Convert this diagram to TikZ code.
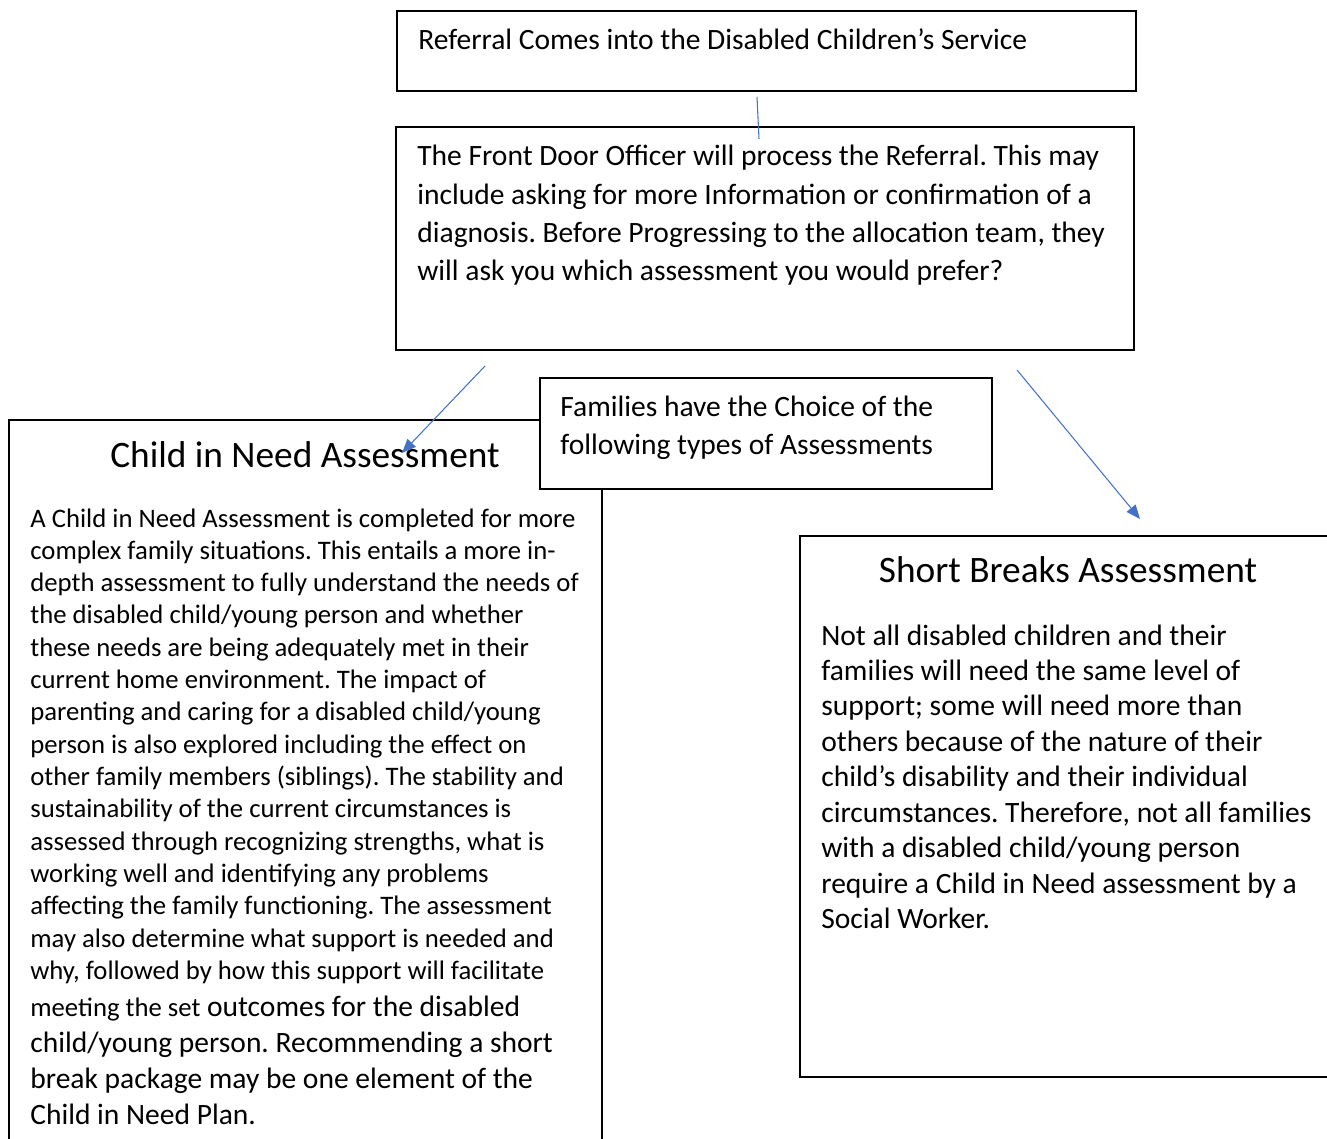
\documentclass[tikz,border=0pt]{standalone}
\usepackage{fontspec}
\setmainfont{Carlito}
\usetikzlibrary{arrows.meta}

\definecolor{linkblue}{HTML}{4472C4}
\newcommand{\wordgap}{\frenchspacing\spaceskip=.226em plus .08em minus .04em\relax}
\newcommand{\frontfont}{\fontsize{16.8pt}{21.8pt}\selectfont}
\newcommand{\choicefont}{\fontsize{16.8pt}{22.1pt}\selectfont}
\newcommand{\sbfont}{\fontsize{16.8pt}{20.2pt}\selectfont}
\newcommand{\cinfont}{\fontsize{15.2pt}{18.4pt}\selectfont}
\newcommand{\cinbigfont}{\fontsize{16.8pt}{20.6pt}\selectfont}
\newcommand{\headfont}{\fontsize{21.25pt}{26pt}\selectfont}

\tikzset{
  box/.style={draw, line width=1pt, fill=white},
  link/.style={draw=linkblue, line width=0.6pt},
  tip/.style={-{Triangle[length=8pt,width=6.5pt]}},
  txt/.style={anchor=base west, inner sep=0pt, text width=#1},
  txt/.default=15cm,
  head/.style={anchor=base, inner sep=0pt, font=\headfont}
}

\begin{document}
\begin{tikzpicture}[x=0.02cm, y=-0.02cm]
    \clip (0,0) rectangle (1327,1138);
    % boxes
    \draw [box] (397,11) rectangle (1136,91);
    \draw [box] (396,127) rectangle (1134,350);
    \draw [box] (9,420) rectangle (602,1170);
    \draw [box] (800,536) rectangle (1336,1077);
    \draw [box] (540,378) rectangle (992,489);
    % texts
    \node [txt, font=\frontfont] (ref) at (418,50) {\wordgap Referral Comes into the Disabled Children’s Service};
    \node [txt, font=\frontfont] (front) at (417,166) {\wordgap The Front Door Officer will process the Referral. This may\\
      include asking for more Information or confirmation of a\\
      diagnosis. Before Progressing to the allocation team, they\\
      will ask you which assessment you would prefer?};
    \node [txt, font=\choicefont] (choice) at (560,416) {\wordgap Families have the Choice of the\\
      following types of Assessments};
    \node [head] (cin) at (305,467) {\wordgap Child in Need Assessment};
    \node [txt, font=\cinfont] (cinbody) at (30,527) {\wordgap A Child in Need Assessment is completed for more\\
      complex family situations. This entails a more in-\\
      depth assessment to fully understand the needs of\\
      the disabled child/young person and whether\\
      these needs are being adequately met in their\\
      current home environment. The impact of\\
      parenting and caring for a disabled child/young\\
      person is also explored including the effect on\\
      other family members (siblings). The stability and\\
      sustainability of the current circumstances is\\
      assessed through recognizing strengths, what is\\
      working well and identifying any problems\\
      affecting the family functioning. The assessment\\
      may also determine what support is needed and\\
      why, followed by how this support will facilitate};
    \node [txt, font=\cinbigfont] (cinmore) at (30,1016) {\wordgap{\cinfont\wordgap meeting the set} outcomes for the disabled\\
      child/young person. Recommending a short\\
      break package may be one element of the\\
      Child in Need Plan.};
    \node [head] (sba) at (1068,582) {\wordgap Short Breaks Assessment};
    \node [txt, font=\sbfont] (sbabody) at (821,645) {\wordgap Not all disabled children and their\\
      families will need the same level of\\
      support; some will need more than\\
      others because of the nature of their\\
      child’s disability and their individual\\
      circumstances. Therefore, not all families\\
      with a disabled child/young person\\
      require a Child in Need assessment by a\\
      Social Worker.};
    % connectors
    \coordinate (refout) at (757,97);
    \coordinate (frontin) at (759,139);
    \coordinate (leftfrom) at (485,366);
    \coordinate (leftto) at (402,453);
    \coordinate (rightfrom) at (1017,370);
    \coordinate (rightto) at (1140,519);
    \draw [link] (refout) -- (frontin);
    \draw [link,tip] (leftfrom) -- (leftto);
    \draw [link,tip] (rightfrom) -- (rightto);
\end{tikzpicture}
\end{document}
